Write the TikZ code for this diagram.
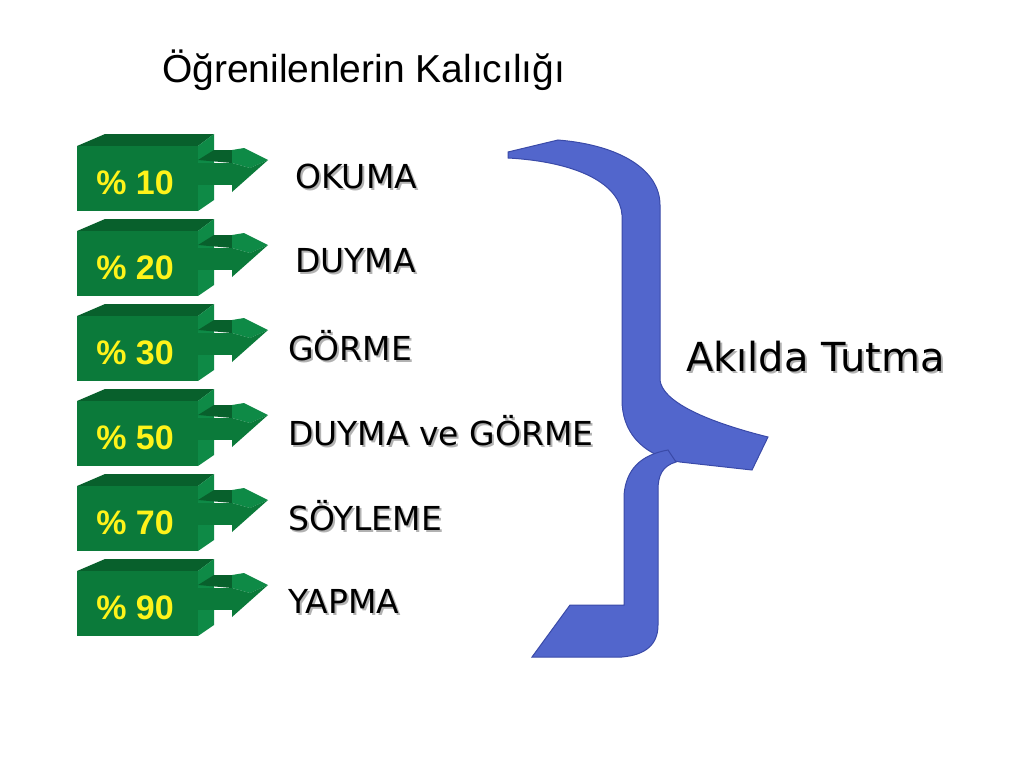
\documentclass[tikz,border=0pt]{standalone}
\usepackage{fontspec}
\setmainfont{Liberation Sans}
\newfontfamily\verd{DejaVu Sans}
\begin{document}
\begin{tikzpicture}[x=1pt,y=-1pt,
  lbl/.style={font=\verd\fontsize{33}{36}\selectfont,anchor=west,inner sep=0},
  pct/.style={font=\bfseries\fontsize{34}{38}\selectfont,text=yellow!90!white,inner sep=0}]
\definecolor{gfront}{HTML}{0B7A3A}
\definecolor{gside}{HTML}{0E8A46}
\definecolor{gtop}{HTML}{08602C}
\definecolor{bl}{HTML}{5266CC}
\definecolor{bld}{HTML}{3A4AA8}
\useasboundingbox (0,0) rectangle (1024,768);
\node[font=\fontsize{39}{44}\selectfont,anchor=west,inner sep=0] (title) at (162,70) {Öğrenilenlerin Kalıcılığı};
\foreach \i/\p/\t/\tx in {0/10/OKUMA/295,1/20/DUYMA/295,2/30/GÖRME/288,3/50/DUYMA ve GÖRME/288,4/70/SÖYLEME/288,5/90/YAPMA/288}{
  \begin{scope}[yshift=-85*\i]
   \fill[gtop] (77,146) -- (105,134) -- (214,134) -- (198,146) -- cycle;
   \fill[gside] (198,146) -- (214,134) -- (214,200) -- (198,211) -- cycle;
   \fill[gtop] (198,160) -- (214,150) -- (232,150) -- (232,163) -- cycle;
   \fill[gfront] (198,163) -- (232,163) -- (232,185) -- (198,185) -- cycle;
   \fill[gside] (232,163) -- (232,150) -- (244,148) -- (268,160) -- (250,168) -- cycle;
   \fill[gfront] (232,163) -- (250,168) -- (268,160) -- (232,192) -- cycle;
   \fill[gfront] (77,146) rectangle (198,211);
   \node[pct] (p\i) at (135,183) {\%~\p};
   \node[lbl,text=gray!60,xshift=2,yshift=-2] at (\tx,176) {\t};
   \node[lbl] (l\i) at (\tx,176) {\t};
  \end{scope}}
\fill[bl,draw=bld,line width=1] (508,152) -- (558,140) .. controls (620,145) and (660,170) .. (660,205) -- (660,380) .. controls (662,400) and (700,420) .. (768,437) -- (752,470) -- (680,462) .. controls (640,455) and (622,430) .. (622,400) -- (622,215) .. controls (620,185) and (580,162) .. (508,158) -- cycle;
\fill[bl,draw=bld,line width=1] (624,495) .. controls (626,470) and (640,455) .. (668,450) -- (676,462) .. controls (662,466) and (658,476) .. (658,490) -- (658,625) .. controls (658,645) and (645,655) .. (622,657) -- (532,657) -- (570,605) -- (624,605) -- cycle;
\node[font=\verd\fontsize{40}{44}\selectfont,anchor=west,inner sep=0,text=gray!60,xshift=2,yshift=-2] at (686,357) {Akılda Tutma};
\node[font=\verd\fontsize{40}{44}\selectfont,anchor=west,inner sep=0] (ak) at (686,357) {Akılda Tutma};
\end{tikzpicture}
\end{document}
